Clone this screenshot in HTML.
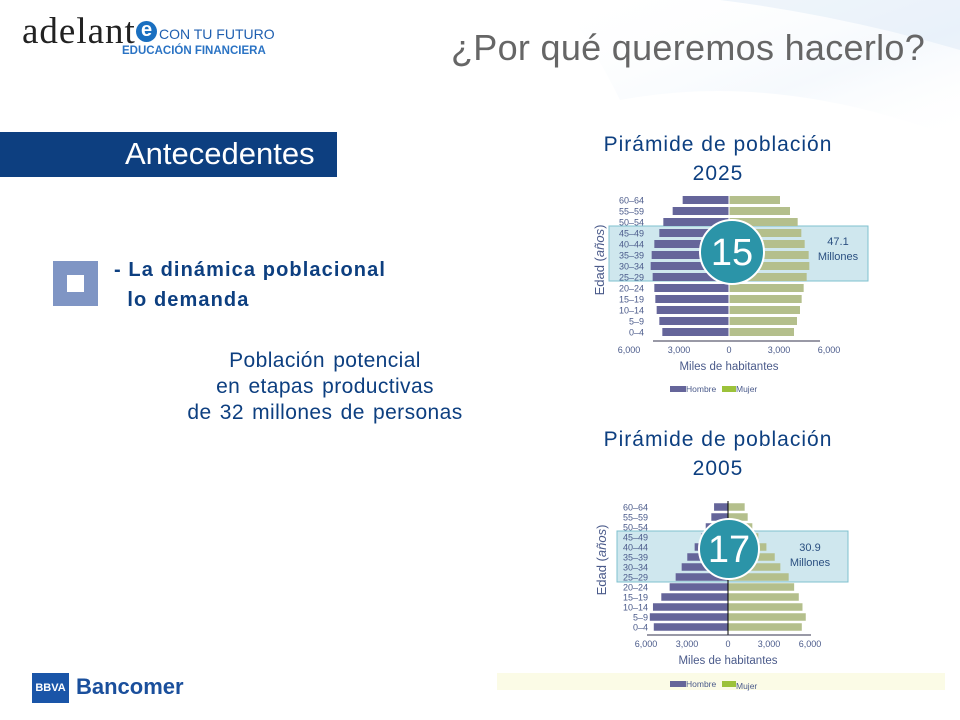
<!DOCTYPE html>
<html><head><meta charset="utf-8">
<style>
html,body{margin:0;padding:0}
body{width:960px;height:720px;position:relative;overflow:hidden;background:#fff;font-family:"Liberation Sans",sans-serif}
.abs{position:absolute}
</style></head>
<body>
<svg class="abs" style="left:0;top:0" width="960" height="720">
<defs>
<linearGradient id="sw" x1="0" y1="0" x2="1" y2="1">
<stop offset="0" stop-color="#ffffff" stop-opacity="0"/>
<stop offset="0.6" stop-color="#dbe9f7" stop-opacity="0.6"/>
<stop offset="1" stop-color="#ffffff" stop-opacity="0"/>
</linearGradient>
</defs>
<path d="M560 0 L960 0 L960 140 Q780 70 620 100 Q590 40 560 0Z" fill="url(#sw)" opacity="0.45"/>
<path d="M720 0 L960 0 L960 50 Q840 15 720 0Z" fill="#d6e6f5" opacity="0.4"/>
<rect x="497" y="673" width="448" height="17" fill="#fbfbe6"/>
</svg>

<div class="abs" style="left:22px;top:10px;width:280px;height:50px">
<span style="position:absolute;left:0;top:0px;font-family:'Liberation Serif',serif;font-size:37px;color:#222;letter-spacing:1px">adelant</span>
<span style="position:absolute;left:114px;top:11px;width:21px;height:21px;border-radius:50%;background:#1a6fc0;color:#fff;font-size:20px;line-height:19px;text-align:center;font-weight:bold">e</span>
<span style="position:absolute;left:137px;top:16px;font-size:14px;color:#1f5fb0">CON TU FUTURO</span>
<span style="position:absolute;left:100px;top:35px;font-size:11.5px;color:#2a73c4;font-weight:bold">EDUCACIÓN FINANCIERA</span>
</div>

<div class="abs" style="left:451px;top:27px;font-size:36px;color:#666;letter-spacing:0.3px">¿Por qué queremos hacerlo?</div>

<div class="abs" style="left:0;top:132px;width:337px;height:45px;background:#0d3f80"></div>
<div class="abs" style="left:125px;top:136px;font-size:31px;color:#fff">Antecedentes</div>

<div class="abs" style="left:53px;top:261px;width:45px;height:45px;background:#7f95c4"></div>
<div class="abs" style="left:67px;top:275px;width:17px;height:17px;background:#fff"></div>
<div class="abs" style="left:114px;top:255px;font-size:20px;letter-spacing:1.1px;font-weight:bold;color:#0d3f80;line-height:30px">- La dinámica poblacional<br>&nbsp;&nbsp;lo demanda</div>

<div class="abs" style="left:150px;top:348px;width:350px;text-align:center;font-size:21px;letter-spacing:0.4px;word-spacing:2px;color:#0d3f80;line-height:26px">Población potencial<br>en etapas productivas<br>de 32 millones de personas</div>

<div class="abs" style="left:568px;top:130px;width:300px;text-align:center;font-size:21px;letter-spacing:1px;color:#0d3f80;line-height:29px">Pirámide de población<br>2025</div>
<div class="abs" style="left:568px;top:425px;width:300px;text-align:center;font-size:21px;letter-spacing:1px;color:#0d3f80;line-height:29px">Pirámide de población<br>2005</div>

<div class="abs" style="left:32px;top:673px;width:170px;height:32px">
<span style="position:absolute;left:0;top:0;width:37px;height:30px;background:#1a55a8;color:#fff;font-size:11px;font-weight:bold;line-height:30px;text-align:center">BBVA</span>
<span style="position:absolute;left:44px;top:1px;font-size:22px;color:#1a4f9c;font-weight:bold">Bancomer</span>
</div>

<svg id="charts" class="abs" style="left:0;top:0" width="960" height="720"></svg>

<script>
const ageGroups = ["0–4","5–9","10–14","15–19","20–24","25–29","30–34","35–39","40–44","45–49","50–54","55–59","60–64"];
const hombre2025 = [4000,4180,4340,4420,4480,4580,4700,4640,4480,4180,3940,3380,2780];
const mujer2025  = [3900,4080,4260,4360,4480,4660,4820,4780,4540,4340,4120,3660,3060];
const hombre2005 = [5430,5720,5490,4880,4270,3830,3390,2980,2440,1950,1630,1220,1020];
const mujer2005  = [5400,5690,5450,5180,4840,4440,3830,3420,2810,2220,1780,1440,1220];
const tickValues = [-6000,-3000,0,3000,6000];
const tickLabels = ["6,000","3,000","0","3,000","6,000"];

const NS="http://www.w3.org/2000/svg";
const svg=document.getElementById('charts');
function mk(tag,attrs,parent){const e=document.createElementNS(NS,tag);for(const k in attrs)e.setAttribute(k,attrs[k]);(parent||svg).appendChild(e);return e;}
function txt(s,attrs,parent){const t=mk('text',attrs,parent);t.textContent=s;return t;}

function pyramid(cfg){
  const g=mk('g',{});
  
  
  const x=v=>cfg.cx+v*cfg.pxPer6000/6000;
  const y=i=>cfg.yBottom-i*cfg.rowH;
  const hb=mk('rect',{x:cfg.box[0],y:cfg.box[1],width:cfg.box[2],height:cfg.box[3],fill:'#cfe7ee',stroke:'#7fc0cf','stroke-width':1},g);
  
  
  ageGroups.forEach((a,i)=>{
    const h=mk('rect',{x:x(-cfg.hombre[i]),y:y(i)-cfg.barH/2,width:x(0)-x(-cfg.hombre[i]),height:cfg.barH,fill:'#65659a'},g);
    
    
    const m=mk('rect',{x:x(0),y:y(i)-cfg.barH/2,width:x(cfg.mujer[i])-x(0),height:cfg.barH,fill:'#b4bf8c'},g);
    
    
    const l=txt(a,{x:cfg.labelX,y:y(i)+3.5,'font-size':9,fill:'#4a5a8a','text-anchor':'end','font-family':'Liberation Sans, sans-serif'},g);
    
    
  });
  mk('line',{x1:x(0),x2:x(0),y1:y(ageGroups.length-1)-6,y2:cfg.axisY,stroke:cfg.centerLine?'#000':'#fff','stroke-width':1},g);
  const ax=mk('line',{x1:cfg.axis[0],x2:cfg.axis[1],y1:cfg.axisY,y2:cfg.axisY,stroke:'#33334d','stroke-width':1},g);
  
  
  tickValues.forEach((v,i)=>{
    const t=txt(tickLabels[i],{x:x(v),y:cfg.axisY+12,'font-size':9,fill:'#4a5a8a','text-anchor':'middle','font-family':'Liberation Sans, sans-serif'},g);
    
    
  });
  const xt=txt('Miles de habitantes',{x:cfg.cx,y:cfg.axisY+29,'font-size':11.5,fill:'#4a5a8a','text-anchor':'middle','font-family':'Liberation Sans, sans-serif'},g);
  
  
  const yt=txt('',{transform:`translate(${cfg.yTitleX},${cfg.yTitleY}) rotate(-90)`,'font-size':13,fill:'#4a5a8a','text-anchor':'middle','font-family':'Liberation Sans, sans-serif'},g);
  yt.innerHTML='Edad (<tspan font-style="italic">años</tspan>)';
  
  
  const c=mk('circle',{cx:cfg.circle[0],cy:cfg.circle[1],r:cfg.circle[2],fill:'#2b94a8',stroke:'#fff','stroke-width':2},g);
  
  
  const ct=txt(cfg.badge,{x:cfg.circle[0],y:cfg.circle[1]+13,'font-size':38,fill:'#fff','text-anchor':'middle','font-family':'Liberation Sans, sans-serif'},g);
  
  
  const n1=txt(cfg.total,{x:cfg.totalX,y:cfg.totalY,'font-size':11,fill:'#2a4f80','text-anchor':'middle','font-family':'Liberation Sans, sans-serif'},g);
  
  
  txt('Millones',{x:cfg.totalX,y:cfg.totalY+15,'font-size':11,fill:'#2a4f80','text-anchor':'middle','font-family':'Liberation Sans, sans-serif'},g);
  const lg=mk('g',{},g);
  
  
  mk('rect',{x:cfg.legX,y:cfg.legY-6,width:16,height:6,fill:'#65659a'},lg);
  txt('Hombre',{x:cfg.legX+16,y:cfg.legY,'font-size':8.5,fill:'#4a5a8a','font-family':'Liberation Sans, sans-serif'},lg);
  mk('rect',{x:cfg.legX+52,y:cfg.legY-6,width:14,height:6,fill:'#9cc23a'},lg);
  txt('Mujer',{x:cfg.legX+66,y:cfg.legY+cfg.legDy,'font-size':8.5,fill:'#4a5a8a','font-family':'Liberation Sans, sans-serif'},lg);
}

pyramid({name:'pyramid-2025',cx:729,pxPer6000:100,yBottom:332,rowH:11,barH:8,labelX:644,
  hombre:hombre2025,mujer:mujer2025,axis:[653,820],axisY:341,centerLine:false,
  yTitleX:604,yTitleY:260,box:[609,226,259,55],circle:[732,252,32],badge:'15',
  total:'47.1',totalX:838,totalY:245,legX:670,legY:392,legDy:0});
pyramid({name:'pyramid-2005',cx:728,pxPer6000:82,yBottom:627,rowH:10,barH:7.5,labelX:648,
  hombre:hombre2005,mujer:mujer2005,axis:[647,811],axisY:635,centerLine:true,
  yTitleX:606,yTitleY:560,box:[617,531,231,51],circle:[729,549,30],badge:'17',
  total:'30.9',totalX:810,totalY:551,legX:670,legY:687,legDy:2});
</script>
</body></html>
